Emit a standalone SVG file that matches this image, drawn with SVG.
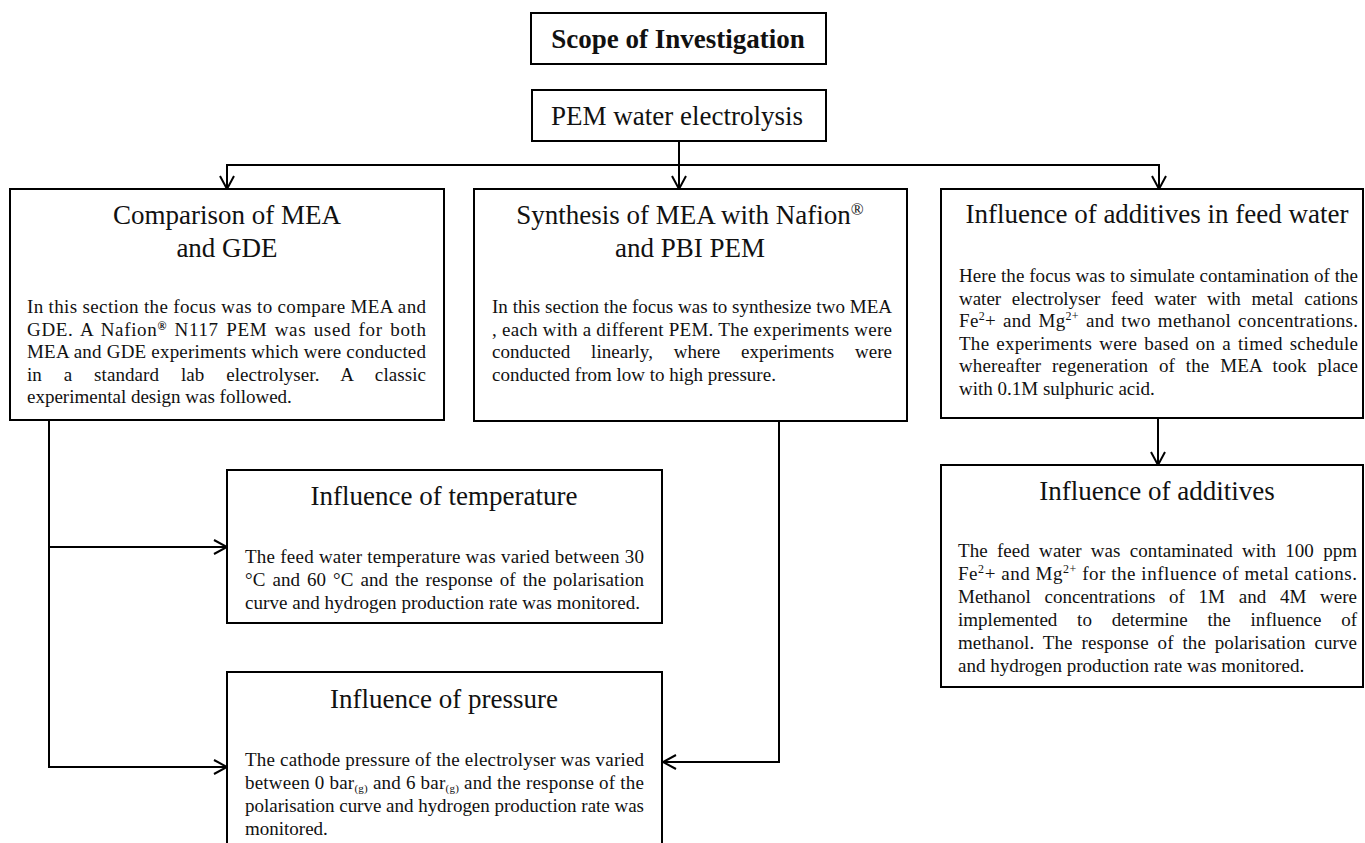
<svg xmlns="http://www.w3.org/2000/svg" width="1365" height="843" viewBox="0 0 1365 843">
<defs>
<style>
.box{fill:#fff;stroke:#000;stroke-width:2}
.conn{fill:none;stroke:#000;stroke-width:2}
text{font-family:"Liberation Serif","Times New Roman",serif;fill:#111}
.t{font-size:27px;text-anchor:middle}
.tb{font-size:27px;text-anchor:middle;font-weight:bold}
.b{font-size:19px}
.sup{font-size:12px}
.sub{font-size:11px}
</style>
<marker id="arr" viewBox="0 0 16 16" refX="14" refY="8" markerWidth="16" markerHeight="16" markerUnits="userSpaceOnUse" orient="auto">
<path d="M1,1 L14,8 L1,15" fill="none" stroke="#000" stroke-width="2"/>
</marker>
</defs>
<rect width="1365" height="843" fill="#fff"/>

<g id="connectors">
<path class="conn" d="M679,141 V189" marker-end="url(#arr)"/>
<path class="conn" d="M679,165 H227 V189" marker-end="url(#arr)"/>
<path class="conn" d="M679,165 H1159 V189" marker-end="url(#arr)"/>
<path class="conn" d="M1158,418 V465" marker-end="url(#arr)"/>
<path class="conn" d="M49,420 V767 H227" marker-end="url(#arr)"/>
<path class="conn" d="M49,547 H227" marker-end="url(#arr)"/>
<path class="conn" d="M779,421 V762 H663" marker-end="url(#arr)"/>
</g>

<g id="scope">
<rect class="box" x="531" y="13" width="295" height="51"/>
<text class="tb" x="678" y="48">Scope of Investigation</text>
</g>

<g id="pem">
<rect class="box" x="532" y="90" width="294" height="51"/>
<text class="t" x="677" y="125">PEM water electrolysis</text>
</g>

<g id="comparison">
<rect class="box" x="10" y="189" width="434" height="231"/>
<text class="t" x="227" y="224">Comparison of MEA</text>
<text class="t" x="227" y="257">and GDE</text>
<text class="b" x="27" y="313" textLength="399" lengthAdjust="spacing">In this section the focus was to compare MEA and</text>
<text class="b" x="27" y="335.5" textLength="399" lengthAdjust="spacing" style="word-spacing:2px">GDE.  A Nafion<tspan class="sup" font-weight="bold" baseline-shift="6">®</tspan> N117 PEM was used for both</text>
<text class="b" x="27" y="358" textLength="399" lengthAdjust="spacing">MEA and GDE experiments which were conducted</text>
<text class="b" x="27" y="380.5" textLength="399" lengthAdjust="spacing" style="word-spacing:17px">in a standard lab electrolyser. A classic</text>
<text class="b" x="27" y="403">experimental design was followed.</text>
</g>

<g id="synthesis">
<rect class="box" x="474" y="189" width="433" height="232"/>
<text class="t" x="690" y="224">Synthesis of MEA with Nafion<tspan font-size="17" baseline-shift="9">®</tspan></text>
<text class="t" x="690" y="257">and PBI PEM</text>
<text class="b" x="492" y="313" textLength="400" lengthAdjust="spacing">In this section the focus was to synthesize two MEA</text>
<text class="b" x="492" y="335.5" textLength="400" lengthAdjust="spacing">, each with a different PEM. The experiments were</text>
<text class="b" x="492" y="358" textLength="400" lengthAdjust="spacing" style="word-spacing:16px">conducted linearly, where experiments were</text>
<text class="b" x="492" y="380.5">conducted from low to high pressure.</text>
</g>

<g id="feedwater">
<rect class="box" x="941" y="189" width="422" height="229"/>
<text class="t" x="1157" y="223">Influence of additives in feed water</text>
<text class="b" x="959" y="282" textLength="399" lengthAdjust="spacing">Here the focus was to simulate contamination of the</text>
<text class="b" x="959" y="304.5" textLength="399" lengthAdjust="spacing" style="word-spacing:6px">water electrolyser feed water with metal cations</text>
<text class="b" x="959" y="327" textLength="399" lengthAdjust="spacing" style="word-spacing:2px">Fe<tspan class="sup" baseline-shift="7">2</tspan>+ and Mg<tspan class="sup" baseline-shift="7">2+</tspan> and two methanol concentrations.</text>
<text class="b" x="959" y="349.5" textLength="399" lengthAdjust="spacing" style="word-spacing:2px">The experiments were based on a timed schedule</text>
<text class="b" x="959" y="372" textLength="399" lengthAdjust="spacing" style="word-spacing:6px">whereafter regeneration of the MEA took place</text>
<text class="b" x="959" y="394.5">with 0.1M sulphuric acid.</text>
</g>

<g id="additives">
<rect class="box" x="941" y="465" width="422" height="222"/>
<text class="t" x="1157" y="500">Influence of additives</text>
<text class="b" x="958" y="557" textLength="399" lengthAdjust="spacing" style="word-spacing:4.5px">The feed water was contaminated with 100 ppm</text>
<text class="b" x="958" y="580" textLength="399" lengthAdjust="spacing">Fe<tspan class="sup" baseline-shift="7">2</tspan>+ and Mg<tspan class="sup" baseline-shift="7">2+</tspan> for the influence of metal cations.</text>
<text class="b" x="958" y="603" textLength="399" lengthAdjust="spacing" style="word-spacing:9px">Methanol concentrations of 1M and 4M were</text>
<text class="b" x="958" y="626" textLength="399" lengthAdjust="spacing" style="word-spacing:15px">implemented to determine the influence of</text>
<text class="b" x="958" y="649" textLength="399" lengthAdjust="spacing" style="word-spacing:4px">methanol. The response of the polarisation curve</text>
<text class="b" x="958" y="672">and hydrogen production rate was monitored.</text>
</g>

<g id="temperature">
<rect class="box" x="227" y="470" width="435" height="153"/>
<text class="t" x="444" y="505">Influence of temperature</text>
<text class="b" x="245" y="563" textLength="399" lengthAdjust="spacing">The feed water temperature was varied between 30</text>
<text class="b" x="245" y="586" textLength="399" lengthAdjust="spacing" style="word-spacing:2px">°C and 60 °C and the response of the polarisation</text>
<text class="b" x="245" y="609" textLength="395" lengthAdjust="spacing">curve and hydrogen production rate was monitored.</text>
</g>

<g id="pressure">
<rect class="box" x="227" y="672" width="435" height="185"/>
<text class="t" x="444" y="708">Influence of pressure</text>
<text class="b" x="245" y="766" textLength="399" lengthAdjust="spacing">The cathode pressure of the electrolyser was varied</text>
<text class="b" x="245" y="789" textLength="399" lengthAdjust="spacing">between 0 bar<tspan class="sub" baseline-shift="-3">(g)</tspan> and 6 bar<tspan class="sub" baseline-shift="-3">(g)</tspan> and the response of the</text>
<text class="b" x="245" y="812" textLength="399" lengthAdjust="spacing">polarisation curve and hydrogen production rate was</text>
<text class="b" x="245" y="835">monitored.</text>
</g>
</svg>
